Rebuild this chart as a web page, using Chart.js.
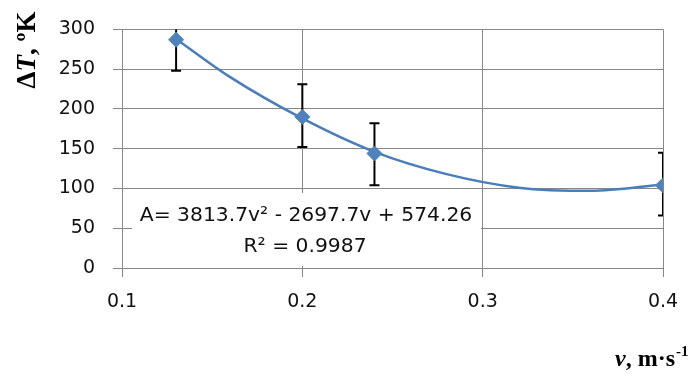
<!DOCTYPE html>
<html>
<head>
<meta charset="utf-8">
<script src="https://cdn.jsdelivr.net/npm/chart.js@4.4.1/dist/chart.umd.min.js"></script>
<style>
  html, body { margin: 0; padding: 0; background: #fff; }
  #wrap { width: 697px; height: 374px; }
</style>
</head>
<body>
<div id="wrap"><canvas id="grafico" width="697" height="374"></canvas></div>
<script>
// measured points
const velocidade = [0.13, 0.2, 0.24, 0.4];
const deltaT = [287, 190, 144, 104];
const erroSup = [39, 41, 38, 41];
const erroInf = [39, 38, 40, 38];

// trend curve
const tendX = [0.13, 0.16, 0.2, 0.24, 0.28, 0.32, 0.36, 0.4];
const tendY = [288, 240, 188, 146, 118, 101, 97, 105];

const xTicks = [0.1, 0.2, 0.3, 0.4];
const xTickLabels = ['0.1', '0.2', '0.3', '0.4'];
const yTicks = [0, 50, 100, 150, 200, 250, 300];

const equacao = 'A= 3813.7v\u00B2 - 2697.7v + 574.26';
const r2 = 'R\u00B2 = 0.9987';

const AZUL = '#4F81BD';
const GRADE = '#878787';

const pluginExtras = {
    id: 'extras',
    beforeDatasetsDraw(chart) {
        const ctx = chart.ctx;
        const x = chart.scales.x, y = chart.scales.y;
        const area = chart.chartArea;

        // white box behind the equation
        ctx.save();
        ctx.fillStyle = '#fff';
        ctx.fillRect(132, 193, 349, 73);
        ctx.fillStyle = '#111';
        ctx.font = '20.3px "DejaVu Sans"';
        ctx.textAlign = 'center';
        ctx.textBaseline = 'alphabetic';
        ctx.fillText(equacao, 306, 221);
        ctx.fillText(r2, 305, 252);
        ctx.restore();

        // error bars
        ctx.save();
        ctx.beginPath();
        ctx.rect(area.left, area.top, area.right - area.left, area.bottom - area.top + 2);
        ctx.clip();
        ctx.strokeStyle = '#000';
        ctx.lineWidth = 2;
        velocidade.forEach((v, i) => {
            const px = x.getPixelForValue(v);
            const top = y.getPixelForValue(deltaT[i] + erroSup[i]);
            const bot = y.getPixelForValue(deltaT[i] - erroInf[i]);
            ctx.beginPath();
            ctx.moveTo(px, top); ctx.lineTo(px, bot);
            ctx.moveTo(px - 5, top); ctx.lineTo(px + 5, top);
            ctx.moveTo(px - 5, bot); ctx.lineTo(px + 5, bot);
            ctx.stroke();
        });
        ctx.restore();
    },
    afterDraw(chart) {
        const ctx = chart.ctx;
        ctx.save();
        ctx.fillStyle = '#000';
        ctx.textBaseline = 'alphabetic';

        // y title, rotated
        const pedacosY = [
            ['\u0394', 'bold 27px "Liberation Serif"'],
            ['T', 'italic bold 27px "Liberation Serif"'],
            [', \u00BAK', 'bold 27px "Liberation Serif"']
        ];
        let total = 0;
        pedacosY.forEach(p => { ctx.font = p[1]; total += ctx.measureText(p[0]).width; });
        ctx.translate(35, 50);
        ctx.rotate(-Math.PI / 2);
        let pos = -total / 2;
        pedacosY.forEach(p => {
            ctx.font = p[1];
            ctx.fillText(p[0], pos, 0);
            pos += ctx.measureText(p[0]).width;
        });
        ctx.setTransform(1, 0, 0, 1, 0, 0);

        // x title
        let px = 615;
        ctx.font = 'italic bold 24px "Liberation Serif"';
        ctx.fillText('v', px, 366);
        px += ctx.measureText('v').width;
        ctx.font = 'bold 24px "Liberation Serif"';
        ctx.fillText(', m\u00B7s', px, 366);
        px += ctx.measureText(', m\u00B7s').width;
        ctx.font = 'bold 15px "Liberation Serif"';
        ctx.fillText('-1', px + 1, 356);
        ctx.restore();
    }
};

new Chart(document.getElementById('grafico'), {
    type: 'scatter',
    data: {
        datasets: [{
            label: 'tendencia',
            data: tendX.map((v, i) => ({ x: v, y: tendY[i] })),
            showLine: true,
            borderColor: '#4A7EBB',
            borderWidth: 2.5,
            pointRadius: 0,
            tension: 0.4,
            cubicInterpolationMode: 'monotone',
            order: 2
        }, {
            label: 'medidas',
            data: velocidade.map((v, i) => ({ x: v, y: deltaT[i] })),
            showLine: false,
            pointStyle: 'rectRot',
            pointRadius: 7.5,
            backgroundColor: AZUL,
            borderColor: AZUL,
            borderWidth: 1,
            order: 1
        }]
    },
    options: {
        responsive: false,
        animation: false,
        layout: { padding: { top: 29, right: 34, left: 0, bottom: 0 } },
        plugins: {
            legend: { display: false },
            tooltip: { enabled: false }
        },
        scales: {
            x: {
                type: 'linear',
                min: 0.1,
                max: 0.4,
                afterBuildTicks: s => { s.ticks = xTicks.map(v => ({ value: v })); },
                afterFit: s => { s.height = 106; },
                ticks: {
                    callback: (v) => xTickLabels[xTicks.indexOf(v)],
                    color: '#111',
                    font: { family: 'DejaVu Sans', size: 19 },
                    padding: 14,
                    maxRotation: 0
                },
                grid: { color: GRADE, lineWidth: 1, tickLength: 9 },
                border: { color: GRADE, width: 1 }
            },
            y: {
                min: 0,
                max: 300,
                afterBuildTicks: s => { s.ticks = yTicks.map(v => ({ value: v })); },
                afterFit: s => { s.width = 122; },
                ticks: {
                    color: '#111',
                    font: { family: 'DejaVu Sans', size: 19 },
                    padding: 18
                },
                grid: { color: GRADE, lineWidth: 1, tickLength: 9 },
                border: { color: GRADE, width: 1 }
            }
        }
    },
    plugins: [pluginExtras]
});
</script>
</body>
</html>
